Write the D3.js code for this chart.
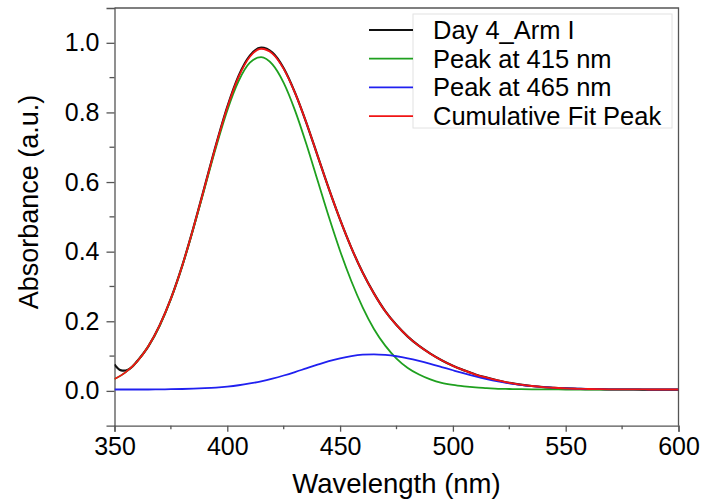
<!DOCTYPE html>
<html>
<head>
<meta charset="utf-8">
<script src="https://cdn.jsdelivr.net/npm/d3@7"></script>
<style>
  body { margin: 0; background: #fff; }
  text { font-family: "Liberation Sans", Arial, sans-serif; fill: #000; }
</style>
</head>
<body>
<svg id="chart" width="702" height="501"></svg>
<script>
// wavelength grid (nm) for the fitted curves
const wavelengths = [350, 355, 360, 365, 370, 375, 380, 385, 390, 395, 400, 405, 410, 415, 420, 425, 430, 435, 440, 445,
  450, 455, 460, 465, 470, 475, 480, 485, 490, 495, 500, 505, 510, 515, 520, 525, 530, 535, 540, 545,
  550, 555, 560, 565, 570, 575, 580, 585, 590, 595, 600];

const peak415 = [0.034, 0.054, 0.084, 0.128, 0.187, 0.264, 0.358, 0.467, 0.583, 0.700, 0.806, 0.890, 0.943, 0.959, 0.938, 0.885, 0.806, 0.710, 0.605, 0.500,
  0.402, 0.315, 0.240, 0.178, 0.130, 0.093, 0.066, 0.047, 0.033, 0.023, 0.017, 0.013, 0.010, 0.008, 0.006, 0.0055, 0.005, 0.0046, 0.0044, 0.0042,
  0.004, 0.004, 0.004, 0.004, 0.004, 0.004, 0.004, 0.004, 0.004, 0.004, 0.004];

const peak465 = [0.004, 0.004, 0.004, 0.004, 0.0045, 0.0048, 0.0054, 0.0063, 0.0077, 0.0096, 0.0124, 0.0162, 0.0213, 0.0276, 0.0353, 0.0442, 0.0541, 0.0647, 0.0752, 0.0852,
  0.0937, 0.1002, 0.1040, 0.1050, 0.1033, 0.0995, 0.0937, 0.0863, 0.0778, 0.0686, 0.0593, 0.0502, 0.0417, 0.0341, 0.0275, 0.0219, 0.0173, 0.0137, 0.0109, 0.0088,
  0.0072, 0.0061, 0.0054, 0.0049, 0.0045, 0.0043, 0.0042, 0.0041, 0.004, 0.004, 0.004];

const cumulativeFit = [0.034, 0.054, 0.084, 0.128, 0.188, 0.265, 0.359, 0.469, 0.587, 0.706, 0.814, 0.902, 0.960, 0.983, 0.969, 0.925, 0.856, 0.771, 0.676, 0.581,
  0.492, 0.411, 0.340, 0.280, 0.229, 0.189, 0.156, 0.129, 0.107, 0.088, 0.072, 0.059, 0.047, 0.038, 0.030, 0.023, 0.018, 0.014, 0.011, 0.009,
  0.007, 0.006, 0.0054, 0.0049, 0.0045, 0.0043, 0.0042, 0.0041, 0.004, 0.004, 0.004];

// measured spectrum (Day 4_Arm I)
const measuredWl = [350, 351, 352, 353, 354, 356, 358, 360, 365, 370, 375, 380, 385, 390, 395, 400, 405, 410, 415, 420,
  425, 430, 435, 440, 445, 450, 455, 460, 465, 470, 475, 480, 485, 490, 495, 500, 505, 510, 515, 520,
  525, 530, 535, 540, 545, 550, 555, 560, 565, 570, 575, 580, 585, 590, 595, 600];
const measured = [0.076, 0.068, 0.062, 0.059, 0.058, 0.061, 0.070, 0.085, 0.128, 0.188, 0.265, 0.359, 0.469, 0.588, 0.707, 0.816, 0.905, 0.963, 0.986, 0.972,
  0.927, 0.857, 0.771, 0.676, 0.581, 0.492, 0.411, 0.340, 0.280, 0.229, 0.189, 0.156, 0.129, 0.107, 0.088, 0.072, 0.059, 0.047, 0.038, 0.030,
  0.023, 0.018, 0.014, 0.011, 0.009, 0.007, 0.006, 0.005, 0.005, 0.004, 0.004, 0.004, 0.003, 0.003, 0.003, 0.003];

const xTicks = [350, 400, 450, 500, 550, 600];
const xMinorTicks = [375, 425, 475, 525, 575];
const yTicks = [0.0, 0.2, 0.4, 0.6, 0.8, 1.0];
const yMinorTicks = [0.1, 0.3, 0.5, 0.7, 0.9];

const seriesNames = ["Day 4_Arm I", "Peak at 415 nm", "Peak at 465 nm", "Cumulative Fit Peak"];
const seriesColors = ["#111111", "#1fa01f", "#2020f0", "#f01414"];

const svg = d3.select("#chart");
const margin = { top: 8, right: 23.5, bottom: 75.3, left: 114.5 };
const width = +svg.attr("width");
const height = +svg.attr("height");
const innerWidth = width - margin.left - margin.right;
const innerHeight = height - margin.top - margin.bottom;

const xScale = d3.scaleLinear().domain([350, 600]).range([0, innerWidth]);
const yScale = d3.scaleLinear().domain([-0.1, 1.1]).range([innerHeight, 0]);

const g = svg.append("g").attr("transform", `translate(${margin.left},${margin.top})`);

g.append("clipPath").attr("id", "plot-clip")
  .append("rect").attr("width", innerWidth).attr("height", innerHeight);

const axisColor = "#555";

// frame (top + right)
g.append("path")
  .attr("d", `M0,0H${innerWidth}V${innerHeight}`)
  .attr("fill", "none").attr("stroke", axisColor).attr("stroke-width", 1.3);

// x axis
const xAxisG = g.append("g").attr("transform", `translate(0,${innerHeight})`)
  .attr("font-size", null).attr("font-family", null)
  .call(d3.axisBottom(xScale).tickValues(xTicks).tickSize(6).tickPadding(6).tickFormat(d3.format("d")));
xAxisG.append("g").selectAll("line").data(xMinorTicks).join("line")
  .attr("x1", d => xScale(d)).attr("x2", d => xScale(d))
  .attr("y1", 0).attr("y2", 3.5);

// y axis
const yAxisG = g.append("g")
  .call(d3.axisLeft(yScale).tickValues(yTicks).tickSize(8).tickPadding(7).tickFormat(d3.format(".1f")));
yAxisG.append("g").selectAll("line").data(yMinorTicks).join("line")
  .attr("y1", d => yScale(d)).attr("y2", d => yScale(d))
  .attr("x1", 0).attr("x2", -5);

[xAxisG, yAxisG].forEach(a => {
  a.attr("font-size", 25).attr("font-family", '"Liberation Sans", Arial, sans-serif');
  a.select(".domain").attr("stroke", axisColor).attr("stroke-width", 1.3);
  a.selectAll("line").attr("stroke", axisColor).attr("stroke-width", 1.3);
  a.selectAll("text").attr("fill", "#000");
});

// axis titles
svg.append("text")
  .attr("x", margin.left + innerWidth / 2).attr("y", 493)
  .attr("text-anchor", "middle").style("font-size", "27.5px")
  .text("Wavelength (nm)");

svg.append("text")
  .attr("transform", `translate(38,202) rotate(-90)`)
  .attr("text-anchor", "middle").style("font-size", "27px")
  .text("Absorbance (a.u.)");

// curves
const line = d3.line()
  .x(d => xScale(d[0]))
  .y(d => yScale(d[1]))
  .curve(d3.curveMonotoneX);

const seriesData = [
  d3.zip(measuredWl, measured),
  d3.zip(wavelengths, peak415),
  d3.zip(wavelengths, peak465),
  d3.zip(wavelengths, cumulativeFit)
];

const marksG = g.append("g").attr("clip-path", "url(#plot-clip)");
marksG.selectAll("path").data(seriesData).join("path")
  .attr("fill", "none")
  .attr("stroke", (d, i) => seriesColors[i])
  .attr("stroke-width", (d, i) => i === 0 ? 2.2 : 1.8)
  .attr("d", line);

// legend
const legendG = svg.append("g").attr("transform", "translate(413,14)");
legendG.append("rect")
  .attr("width", 259).attr("height", 114)
  .attr("fill", "#fff").attr("stroke", "#e2e2e2").attr("stroke-width", 1);

const legendRow = legendG.selectAll(".row").data(seriesNames).join("g")
  .attr("class", "row")
  .attr("transform", (d, i) => `translate(0,${16 + i * 28.7})`);
legendRow.append("line")
  .attr("x1", -44).attr("x2", 0)
  .attr("stroke", (d, i) => seriesColors[i]).attr("stroke-width", 1.8);
legendRow.append("text")
  .attr("x", 20).attr("y", 9)
  .style("font-size", "25.5px")
  .text(d => d);
</script>
</body>
</html>
